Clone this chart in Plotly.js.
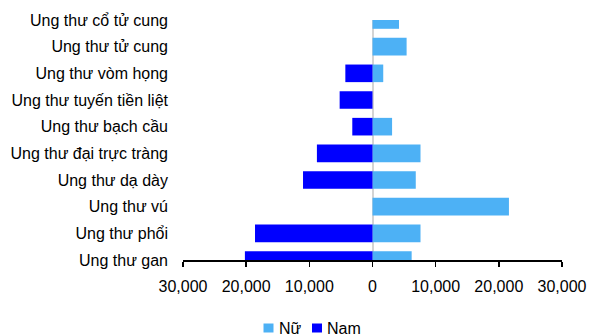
<!DOCTYPE html>
<html>
<head>
<meta charset="utf-8">
<script src="https://cdn.plot.ly/plotly-3.0.1.min.js"></script>
<style>
  html, body { margin: 0; padding: 0; background: #fff; }
  #chart { width: 590px; height: 336px; }
</style>
</head>
<body>
<div id="chart"></div>
<script>
// Cancer cases by site, women to the right, men to the left
const categories = [
  'Ung thư gan', 'Ung thư phổi', 'Ung thư vú', 'Ung thư dạ dày',
  'Ung thư đại trực tràng', 'Ung thư bạch cầu', 'Ung thư tuyến tiền liệt',
  'Ung thư vòm họng', 'Ung thư tử cung', 'Ung thư cổ tử cung'
];
const nuValues  = [6200, 7600, 21600, 6850, 7600, 3100, 0, 1700, 5400, 4200];
const namValues = [20200, 18600, 0, 11000, 8800, 3200, 5200, 4300, 0, 0];
const seriesNames = ['Nữ', 'Nam'];
const seriesColors = ['#4DB1F5', '#0000FF'];
const tickValues = [-30000, -20000, -10000, 0, 10000, 20000, 30000];
const tickLabels = tickValues.map(v => Math.abs(v).toLocaleString('en-US'));

const font = { family: 'Arial, "Liberation Sans", sans-serif', size: 16, color: '#000' };

const traces = [
  {
    type: 'bar', orientation: 'h', name: seriesNames[0],
    y: categories, x: nuValues,
    marker: { color: seriesColors[0] },
    hovertemplate: '%{y}: %{x:,}<extra>' + seriesNames[0] + '</extra>'
  },
  {
    type: 'bar', orientation: 'h', name: seriesNames[1],
    y: categories, x: namValues.map(v => -v),
    customdata: namValues,
    marker: { color: seriesColors[1] },
    hovertemplate: '%{y}: %{customdata:,}<extra>' + seriesNames[1] + '</extra>'
  }
];

// Plot area geometry (pixels) used to place the legend below the axis
const W = 590, H = 336;
const M = { l: 183, r: 28, t: 20, b: 76 };
const pw = W - M.l - M.r, ph = H - M.t - M.b;
const px = x => (x - M.l) / pw;
const py = y => (M.t + ph - y) / ph;

const legendItems = [
  { sq: 263.5, tx: 276.5 },
  { sq: 312, tx: 324.5 }
];
const shapes = legendItems.map((it, i) => ({
  type: 'rect', xref: 'paper', yref: 'paper',
  x0: px(it.sq), x1: px(it.sq + 10), y0: py(323.5), y1: py(332.5),
  fillcolor: seriesColors[i], line: { width: 0 }
}));
const annotations = legendItems.map((it, i) => ({
  xref: 'paper', yref: 'paper', x: px(it.tx), y: py(328),
  xanchor: 'left', yanchor: 'middle', showarrow: false,
  text: seriesNames[i], font: font
}));

const layout = {
  width: W, height: H,
  margin: M,
  paper_bgcolor: '#fff', plot_bgcolor: '#fff',
  font: font,
  barmode: 'relative',
  bargap: 0.34,
  showlegend: false,
  xaxis: {
    range: [-30000, 30000],
    tickvals: tickValues, ticktext: tickLabels,
    showgrid: false,
    zeroline: true, zerolinecolor: '#d4d4d4', zerolinewidth: 2,
    showline: true, linecolor: '#000', linewidth: 1.5,
    ticks: 'outside', ticklen: 5, tickwidth: 1.5, tickcolor: '#000',
    ticklabelstandoff: 6,
    tickfont: font,
    fixedrange: true
  },
  yaxis: {
    type: 'category',
    categoryorder: 'array', categoryarray: categories,
    range: [0, 9],
    showgrid: false, zeroline: false, showline: false,
    ticks: '', ticklabelstandoff: 14,
    tickfont: font,
    fixedrange: true
  },
  shapes: shapes,
  annotations: annotations
};

Plotly.newPlot('chart', traces, layout, { displayModeBar: false, staticPlot: true });
</script>
</body>
</html>
